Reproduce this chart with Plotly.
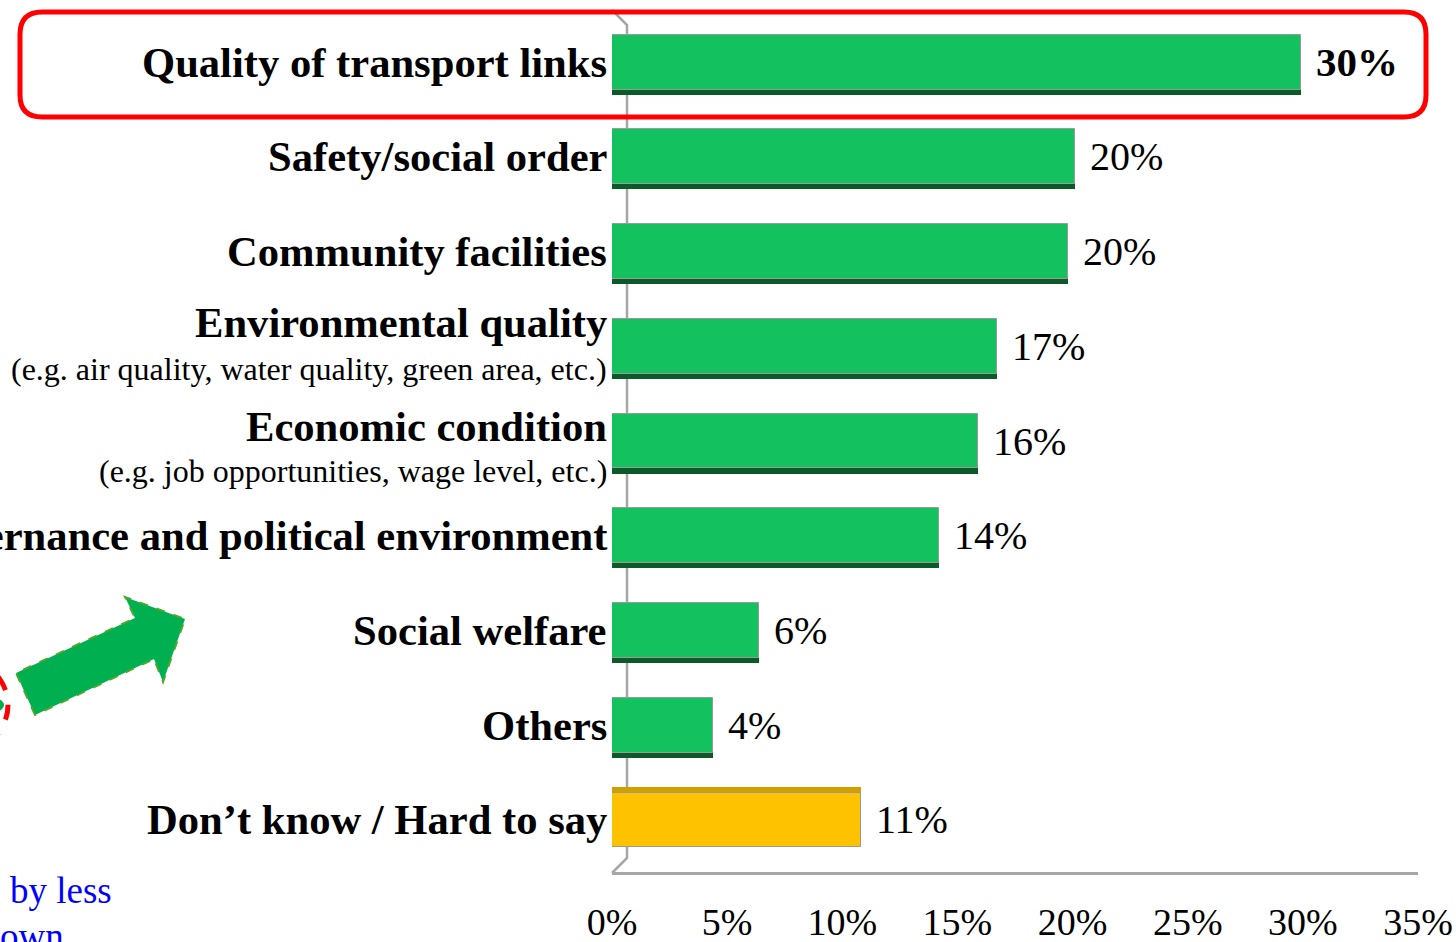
import plotly.graph_objects as go

# ---------------- data ----------------
categories = [
    "Quality of transport links",
    "Safety/social order",
    "Community facilities",
    "Environmental quality",
    "Economic condition",
    "Governance and political environment",
    "Social welfare",
    "Others",
    "Don\u2019t know / Hard to say",
]
subtitles = [
    "", "", "",
    "(e.g. air quality, water quality, green area, etc.)",
    "(e.g. job opportunities, wage level, etc.)",
    "", "", "", "",
]
values = [29.9, 20.1, 19.8, 16.7, 15.9, 14.2, 6.4, 4.4, 10.8]
value_labels = ["30%", "20%", "20%", "17%", "16%", "14%", "6%", "4%", "11%"]
tick_values = [0, 5, 10, 15, 20, 25, 30, 35]
tick_labels = ["0%", "5%", "10%", "15%", "20%", "25%", "30%", "35%"]
side_notes = ["by less", "own"]

# ---------------- style ----------------
W, H = 1456, 942
L, R, T, B = 612, 1418, 12, 872
FONT = "Times New Roman, Liberation Serif, serif"
GREEN, YELLOW = "#13C15E", "#FEC200"
GREEN_D, YELLOW_D = "#0B5A27", "#D29F00"
AXIS_GREY = "#A6A6A6"

face_colors = [YELLOW if c.startswith("Don") else GREEN for c in categories]
depth_colors = [YELLOW_D if c.startswith("Don") else GREEN_D for c in categories]
BAR_W = 0.58
DEPTH = 0.055
depth_offsets = [(-BAR_W / 2 - DEPTH) if c.startswith("Don") else (-BAR_W / 2 + DEPTH) for c in categories]


def px(x):
    return (x - L) / (R - L)


def py(y):
    return (B - y) / (B - T)


fig = go.Figure()
# depth (shadow) of 3-D bars
fig.add_trace(go.Bar(
    y=categories, x=values, orientation="h",
    width=BAR_W, offset=depth_offsets,
    marker=dict(color=depth_colors, line=dict(width=0)),
    hoverinfo="skip", showlegend=False,
))
# front faces
fig.add_trace(go.Bar(
    y=categories, x=values, orientation="h",
    width=BAR_W, offset=-BAR_W / 2,
    marker=dict(color=face_colors, line=dict(color="#9A9A9A", width=1)),
    showlegend=False,
))

annotations = []
# category labels
sub_shift = {3: (24, -23), 4: (15, -30)}
for i, (cat, sub) in enumerate(zip(categories, subtitles)):
    if sub:
        s_main, s_sub = sub_shift.get(i, (22, -22))
        annotations.append(dict(
            x=0, xref="paper", y=cat, yref="y", xanchor="right", yanchor="middle",
            xshift=-3, yshift=s_main, text="<b>%s</b>" % cat, showarrow=False,
            font=dict(family=FONT, size=42.6, color="black")))
        annotations.append(dict(
            x=0, xref="paper", y=cat, yref="y", xanchor="right", yanchor="middle",
            xshift=-3, yshift=s_sub, text=sub, showarrow=False,
            font=dict(family=FONT, size=32, color="black")))
    else:
        annotations.append(dict(
            x=0, xref="paper", y=cat, yref="y", xanchor="right", yanchor="middle",
            xshift=-3, text="<b>%s</b>" % cat, showarrow=False,
            font=dict(family=FONT, size=42.6, color="black")))

# value labels
for i, (cat, v, lab) in enumerate(zip(categories, values, value_labels)):
    txt = "<b>%s</b>" % lab if i == 0 else lab
    annotations.append(dict(
        x=v, xref="x", y=cat, yref="y", xanchor="left", yanchor="middle",
        xshift=13, text=txt, showarrow=False,
        font=dict(family=FONT, size=41 if i == 0 else 40, color="black")))

# partial note text at lower left (cropped slide)
annotations.append(dict(
    x=px(8), xref="paper", y=py(890), yref="paper", xanchor="left", yanchor="middle",
    text=side_notes[0], showarrow=False, font=dict(family=FONT, size=37, color="#0000FF")))
annotations.append(dict(
    x=px(66), xref="paper", y=py(936), yref="paper", xanchor="right", yanchor="middle",
    text=side_notes[1], showarrow=False, font=dict(family=FONT, size=37, color="#0000FF")))

shapes = []
# 3-D chart wall edge
wall = "M %f,%f L %f,%f L %f,%f L %f,%f" % (
    px(612), py(10), px(627), py(25), px(627), py(858), px(612), py(873))
shapes.append(dict(type="path", xref="paper", yref="paper", path=wall,
                   line=dict(color=AXIS_GREY, width=2.5), layer="below"))

# red rounded highlight box
x0, x1, yt, yb = px(20), px(1426), py(12), py(117)
rx, ry = 22 / (R - L), 22 / (B - T)
box = ("M %f,%f L %f,%f Q %f,%f %f,%f L %f,%f Q %f,%f %f,%f L %f,%f Q %f,%f %f,%f "
       "L %f,%f Q %f,%f %f,%f Z") % (
    x0 + rx, yt, x1 - rx, yt, x1, yt, x1, yt - ry, x1, yb + ry, x1, yb, x1 - rx, yb,
    x0 + rx, yb, x0, yb, x0, yb + ry, x0, yt - ry, x0, yt, x0 + rx, yt)
shapes.append(dict(type="path", xref="paper", yref="paper", path=box,
                   line=dict(color="#FF0000", width=5), fillcolor="rgba(0,0,0,0)"))

# green block arrow
arrow_pts = [(35, 715), (16, 673), (135, 618), (125, 597), (185, 619), (163, 682), (154, 659)]
arrow = "M " + " L ".join("%f,%f" % (px(a), py(b)) for a, b in arrow_pts) + " Z"
shapes.append(dict(type="path", xref="paper", yref="paper", path=arrow,
                   fillcolor="#00B050", line=dict(color="#4EA72E", width=2, dash="dash")))

# partial dashed red ellipse at left edge
shapes.append(dict(type="circle", xref="paper", yref="paper",
                   x0=px(-110), x1=px(4), y0=py(690), y1=py(720),
                   fillcolor="#00B050", line=dict(width=0)))
shapes.append(dict(type="circle", xref="paper", yref="paper",
                   x0=px(-130), x1=px(8), y0=py(760), y1=py(650),
                   fillcolor="rgba(0,0,0,0)", line=dict(color="#FF0000", width=5, dash="dash")))

fig.update_layout(
    width=W, height=H,
    margin=dict(l=L, r=W - R, t=T, b=H - B, autoexpand=False),
    paper_bgcolor="white", plot_bgcolor="white",
    barmode="overlay", bargap=0,
    showlegend=False,
    annotations=annotations,
    shapes=shapes,
    xaxis=dict(
        range=[0, 35], tickmode="array", tickvals=tick_values, ticktext=tick_labels,
        showgrid=False, zeroline=False, showline=True, linecolor=AXIS_GREY, linewidth=3,
        ticks="", ticklabelstandoff=14,
        tickfont=dict(family=FONT, size=38, color="black"),
    ),
    yaxis=dict(
        type="category", categoryorder="array", categoryarray=categories,
        range=[8.549, -0.528], showticklabels=False, showgrid=False, zeroline=False,
        showline=False, ticks="",
    ),
)

fig.write_html(
    "out.html",
    config={"displayModeBar": False},
    post_script="document.body.style.margin='0';document.body.style.overflow='hidden';",
)
